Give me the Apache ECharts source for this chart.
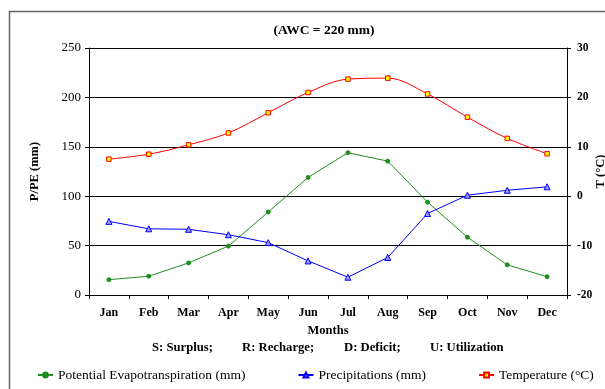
<!DOCTYPE html>
<html>
<head>
<meta charset="utf-8">
<script src="https://cdn.jsdelivr.net/npm/echarts@6/dist/echarts.min.js"></script>
<style>
html,body{margin:0;padding:0;background:#fff;}
#chart{width:605px;height:389px;}
</style>
</head>
<body>
<div id="chart"></div>
<script>
const months = ['Jan','Feb','Mar','Apr','May','Jun','Jul','Aug','Sep','Oct','Nov','Dec'];
const pet = [15.5, 19, 32.5, 49.5, 84, 119, 144, 135.5, 94, 58.5, 30.5, 18.5];
const precip = [74.5, 67, 66.5, 61, 53, 34.5, 18, 38, 82.5, 101, 106, 109.5];
const temperature = [7.5, 8.5, 10.4, 12.8, 16.9, 21.0, 23.7, 23.9, 20.7, 16.0, 11.7, 8.6];
const leftTicks = [0, 250, 50];
const rightTicks = [-20, 30, 10];
const titleText = '(AWC = 220 mm)';
const noteTexts = ['S: Surplus;', 'R: Recharge;', 'D: Deficit;', 'U: Utilization'];
const seriesNames = ['Potential Evapotranspiration (mm)', 'Precipitations (mm)', 'Temperature (°C)'];

const FONT = '"Liberation Serif", "Times New Roman", serif';
const chart = echarts.init(document.getElementById('chart'), null, {renderer:'canvas'});
const noteX = [152, 242, 344, 430];

chart.setOption({
  animation: false,
  backgroundColor: '#fff',
  textStyle: {fontFamily: FONT, color: '#000'},
  title: {
    text: titleText, left: 324, top: 24, textAlign: 'center', padding: 0,
    textStyle: {fontFamily: FONT, fontWeight: 'bold', fontSize: 13.5, color: '#000'}
  },
  graphic: [
    {type:'rect', shape:{x:9.5, y:11.5, width:620, height:400}, style:{fill:'none', stroke:'#666', lineWidth:1.5}, silent:true, z:-1}
  ].concat(noteTexts.map((t,i)=>({
    type:'text', x: noteX[i], y: 348,
    style:{text:t, fontFamily:FONT, fontWeight:'bold', fontSize:12.7, fill:'#000', textVerticalAlign:'middle'}
  }))),
  legend: {
    left: 37, top: 368, itemWidth: 15, itemHeight: 6, itemGap: 52, padding: 0,
    data: seriesNames,
    textStyle: {fontFamily: FONT, fontSize: 13.5, color: '#000'}
  },
  grid: {left: 89, right: 38, top: 48, bottom: 94, outerBoundsMode: 'none', containLabel: false},
  xAxis: {
    type: 'category', data: months, boundaryGap: true,
    name: 'Months', nameLocation: 'middle', nameGap: 29, nameMoveOverlap: false,
    nameTextStyle: {fontFamily: FONT, fontWeight: 'bold', fontSize: 12.5, color: '#000'},
    axisLine: {lineStyle: {color: '#000', width: 1}},
    axisTick: {show: true, length: 4, inside: false, lineStyle: {color: '#000'}},
    axisLabel: {fontFamily: FONT, fontWeight: 'bold', fontSize: 12, color: '#000', margin: 12}
  },
  yAxis: [
    {
      type: 'value', min: leftTicks[0], max: leftTicks[1], interval: leftTicks[2],
      name: 'P/PE (mm)', nameLocation: 'middle', nameGap: 48, nameRotate: 90, nameMoveOverlap: false,
      nameTextStyle: {fontFamily: FONT, fontWeight: 'bold', fontSize: 12.5, color: '#000'},
      axisLine: {show: true, lineStyle: {color: '#000'}},
      axisTick: {show: true, length: 4, lineStyle: {color: '#000'}},
      axisLabel: {fontFamily: FONT, fontSize: 13, color: '#000', margin: 8},
      splitLine: {show: true, lineStyle: {color: '#000', width: 1}}
    },
    {
      type: 'value', min: rightTicks[0], max: rightTicks[1], interval: rightTicks[2],
      position: 'right',
      name: 'T (°C)', nameLocation: 'middle', nameGap: 27, nameRotate: 90, nameMoveOverlap: false,
      nameTextStyle: {fontFamily: FONT, fontWeight: 'bold', fontSize: 12.5, color: '#000'},
      axisLine: {show: true, lineStyle: {color: '#000'}},
      axisTick: {show: true, length: 4, lineStyle: {color: '#000'}},
      axisLabel: {fontFamily: FONT, fontWeight: 'bold', fontSize: 11.5, color: '#000', margin: 10},
      splitLine: {show: false}
    }
  ],
  series: [
    {
      name: seriesNames[0], type: 'line', data: pet, yAxisIndex: 0,
      symbol: 'circle', symbolSize: 4,
      lineStyle: {color: '#1f8f1f', width: 1},
      itemStyle: {color: '#1f8f1f', borderColor: '#1f8f1f', borderWidth: 1}
    },
    {
      name: seriesNames[1], type: 'line', data: precip, yAxisIndex: 0,
      symbol: 'triangle', symbolSize: 6,
      lineStyle: {color: '#0000ff', width: 1},
      itemStyle: {color: '#9999ff', borderColor: '#0000ff', borderWidth: 1}
    },
    {
      name: seriesNames[2], type: 'line', data: temperature, yAxisIndex: 1,
      symbol: 'rect', symbolSize: 4.5, smooth: 0.35,
      lineStyle: {color: '#ff0000', width: 1},
      itemStyle: {color: '#ffff00', borderColor: '#ff0000', borderWidth: 1}
    }
  ]
});
</script>
</body>
</html>
